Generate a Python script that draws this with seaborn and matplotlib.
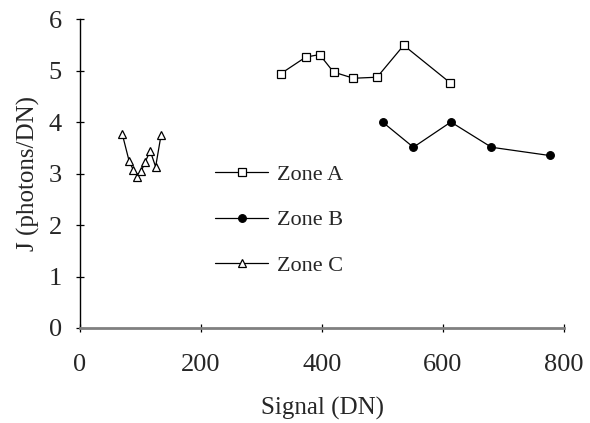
import matplotlib
matplotlib.use("Agg")
import matplotlib.pyplot as plt
import seaborn as sns
import pandas as pd

zone_a_x = [332, 373, 396, 419, 452, 491, 535, 612]
zone_a_y = [4.94, 5.26, 5.31, 4.97, 4.85, 4.87, 5.49, 4.76]
zone_b_x = [500, 551, 613, 680, 776]
zone_b_y = [4.00, 3.51, 4.00, 3.51, 3.35]
zone_c_x = [70, 81, 88, 95, 101, 108, 116, 125, 134]
zone_c_y = [3.76, 3.25, 3.07, 2.94, 3.04, 3.23, 3.44, 3.13, 3.75]
x_ticks = [0, 200, 400, 600, 800]
y_ticks = [0, 1, 2, 3, 4, 5, 6]

sns.set_style("white")
plt.rcParams['font.family'] = ['Liberation Serif', 'DejaVu Serif']

fig = plt.figure(figsize=(5.9, 4.23), dpi=100)
ax = fig.add_axes([0.1356, 0.2246, 0.8204, 0.7304])

series = [
    ("Zone A", zone_a_x, zone_a_y, "s", "white"),
    ("Zone B", zone_b_x, zone_b_y, "o", "black"),
    ("Zone C", zone_c_x, zone_c_y, "^", "white"),
]
for name, xs, ys, mk, fc in series:
    df = pd.DataFrame({"x": xs, "y": ys})
    sns.lineplot(data=df, x="x", y="y", ax=ax, color="black", linewidth=0.9,
                 marker=mk, markersize=5.5, markerfacecolor=fc,
                 markeredgecolor="black", markeredgewidth=0.9, label=name,
                 sort=False, estimator=None)

ax.set_xlim(0, 800)
ax.set_ylim(0, 6)
ax.set_xticks(x_ticks)
ax.set_yticks(y_ticks)
ax.tick_params(axis="both", direction="inout", length=6, width=0.9,
               color="black", labelsize=19, bottom=True, left=True)
ax.tick_params(axis="x", pad=16)
ax.tick_params(axis="y", pad=10)

for s in ["top", "right"]:
    ax.spines[s].set_visible(False)
ax.spines["left"].set_color("black")
ax.spines["left"].set_linewidth(1.0)
ax.spines["bottom"].set_color("#808080")
ax.spines["bottom"].set_linewidth(2.0)

ax.set_xlabel("Signal (DN)", fontsize=18, labelpad=15)
ax.set_ylabel("J (photons/DN)", fontsize=18, labelpad=6)

ax.legend(loc="upper left", bbox_to_anchor=(0.279, 0.53), frameon=False,
          fontsize=16, handlelength=2.4, labelspacing=1.13, handletextpad=0.4,
          borderpad=0, borderaxespad=0)

fig.savefig("out.png", dpi=100)
